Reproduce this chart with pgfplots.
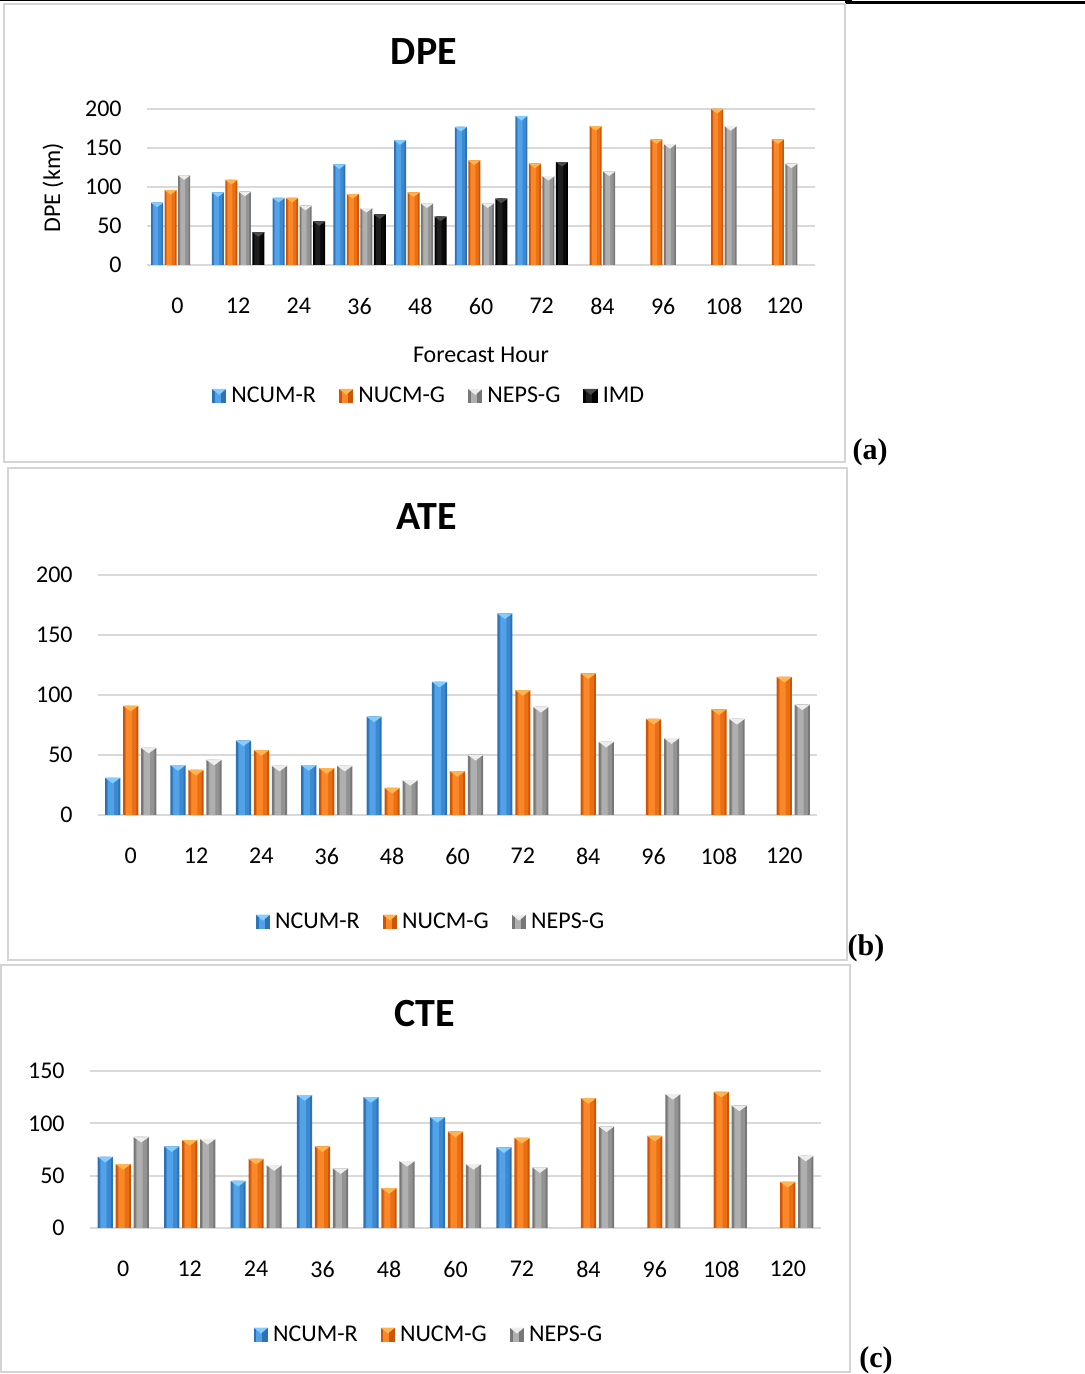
\documentclass[border=0pt]{standalone}
\usepackage{pgfplots}
\usepackage{pgfplotstable}
\pgfplotsset{compat=1.18}
\usepackage{fontspec}
\setmainfont{Carlito}
\newfontfamily\timesb{Liberation Serif}

\definecolor{bluedark}{HTML}{2C72B6}
\definecolor{bluemid}{HTML}{3C89D2}
\definecolor{bluelight}{HTML}{53A2E8}
\definecolor{bluetri}{HTML}{86CDFF}
\definecolor{orgdark}{HTML}{CC5506}
\definecolor{orgmid}{HTML}{EA6F14}
\definecolor{orglight}{HTML}{FA8828}
\definecolor{orgtri}{HTML}{FFB452}
\definecolor{graydark}{HTML}{777777}
\definecolor{graymid}{HTML}{939393}
\definecolor{graylight}{HTML}{AFAFAF}
\definecolor{graytri}{HTML}{EDEDED}
\definecolor{blkdark}{HTML}{000000}
\definecolor{blkmid}{HTML}{0A0A0A}
\definecolor{blklight}{HTML}{1E1E1E}
\definecolor{blktri}{HTML}{4A4A4A}
\definecolor{gridgray}{HTML}{D9D9D9}
\definecolor{framegray}{HTML}{D4D4D4}

% panel (a) data (nan = no bar)
\pgfplotstableread{
x ncum nucm neps imd
0 80  96  115 nan
1 93  109 94  42
2 86  86  76  56
3 129 91  73  65
4 160 93  79  62
5 177 134 79  85
6 191 130 114 132
7 nan 178 120 nan
8 nan 161 155 nan
9 nan 200 178 nan
10 nan 161 130 nan
}\tabA
% panel (b)
\pgfplotstableread{
x ncum nucm neps
0 31   91   56
1 41.5 37.5 46
2 62   54   41
3 41.5 39   41
4 82   22.5 29
5 111  36.5 50
6 168  104  90
7 nan  118  61
8 nan  80   64
9 nan  88   80
10 nan 115  92
}\tabB
% panel (c)
\pgfplotstableread{
x ncum nucm neps
0 68  61  87
1 78  84  85
2 45  66  60
3 127 78  57
4 125 38  64
5 106 92  61
6 77  86  58
7 nan 124 97
8 nan 88  128
9 nan 130 117
10 nan 44 69
}\tabC

\pgfplotsset{
  panel/.style={
    scale only axis, enlargelimits=false,
    xmin=-0.5, xmax=10.5, ymin=0,
    xtick={0,...,10},
    xticklabels={0,12,24,36,48,60,72,84,96,108,120},
    axis line style={draw=none}, tick style={draw=none},
    ymajorgrids, grid style={gridgray, line width=1pt},
    /pgf/number format/assume math mode=true,
    tick label style={font=\fontsize{12}{14}\selectfont, text=black},
    xticklabel style={anchor=center, yshift=-20.5pt},
    yticklabel style={anchor=east, inner sep=0pt, xshift=-12.5pt},
    legend style={draw=none, fill=none, font=\fontsize{12}{14}\selectfont,
      legend columns=-1, inner sep=0pt,
      /tikz/every odd column/.append style={column sep=0.5pt},
      /tikz/every even column/.append style={column sep=9.5pt}},
  },
  % base bar: #1 shift, #2 width, #3 dark, #4 light, #5 triangle colour
  base/.style n args={5}{ybar, bar shift=#1, bar width=#2, draw=none, fill=#3,
    legend image code/.code={\fill[#3] (0pt,-3.6pt) rectangle (7.2pt,3.6pt);
      \fill[#4] (1.4pt,-3.6pt) rectangle (4.4pt,3.6pt);
      \fill[#5] (0pt,3.6pt) -- (7.2pt,3.6pt) -- (3.6pt,0.6pt) -- cycle;}},
  mid/.style n args={3}{ybar, bar shift=#1, bar width=#2, draw=none, fill=#3, forget plot},
  % triangle highlight marks: #1 xshift, #2 colour, #3 mark size
  tri/.style n args={3}{only marks, forget plot, color=#2, mark=triangle*,
    mark size=#3, mark options={xshift=#1, yshift=-0.225*#3-0.15pt, yscale=0.42, rotate=180,
      draw=none, fill=#2}},
}

\begin{document}
\begin{tikzpicture}
\useasboundingbox (0,0) rectangle (542.5pt,687pt);
% top rule
\draw[black, line width=0.6pt] (0,686.6pt) -- (426pt,686.6pt);
\draw[black, line width=1.3pt] (422.5pt,685.6pt) -- (542.5pt,685.6pt);
% frames
\draw[framegray, line width=0.8pt] (2pt,456pt) rectangle (422.5pt,685pt);
\draw[framegray, line width=0.8pt] (4pt,207pt) rectangle (423.5pt,453pt);
\draw[framegray, line width=0.8pt] (0.5pt,1pt) rectangle (425pt,204.5pt);
% panel labels
\node[font=\timesb\bfseries\fontsize{15}{17}\selectfont] at (435pt,461pt) {(a)};
\node[font=\timesb\bfseries\fontsize{15}{17}\selectfont] at (433pt,213pt) {(b)};
\node[font=\timesb\bfseries\fontsize{15}{17}\selectfont] at (438pt,7pt) {(c)};
% titles
\node[font=\bfseries\fontsize{20}{24}\selectfont] at (212pt,661pt) {DPE};
\node[font=\bfseries\fontsize{20}{24}\selectfont] at (213.5pt,428.5pt) {ATE};
\node[font=\bfseries\fontsize{20}{24}\selectfont] at (212.5pt,180pt) {CTE};
\node[font=\fontsize{12}{14}\selectfont] at (240.5pt,509.5pt) {Forecast Hour};
\node[font=\fontsize{12}{14}\selectfont, rotate=90] at (26.5pt,593pt) {DPE (km)};

% ---------- (a) DPE
\begin{axis}[panel, at={(73.5pt,554.5pt)}, anchor=south west,
  width=334pt, height=78pt, ymax=200, ytick={0,50,100,150,200},
  legend style={at={(0.4237,-0.84)}, anchor=center}]
\addplot[base={-10.125pt}{6pt}{bluedark}{bluelight}{bluetri}] table[x=x,y=ncum]{\tabA};
\addplot[base={-3.375pt}{6pt}{orgdark}{orglight}{orgtri}] table[x=x,y=nucm]{\tabA};
\addplot[base={3.375pt}{6pt}{graydark}{graylight}{graytri}] table[x=x,y=neps]{\tabA};
\addplot[base={10.125pt}{6pt}{blkdark}{blklight}{blktri}] table[x=x,y=imd]{\tabA};
\legend{NCUM-R,NUCM-G,NEPS-G,IMD}
\addplot[mid={-10.125pt}{4.4pt}{bluemid}] table[x=x,y=ncum]{\tabA};
\addplot[mid={-3.375pt}{4.4pt}{orgmid}] table[x=x,y=nucm]{\tabA};
\addplot[mid={3.375pt}{4.4pt}{graymid}] table[x=x,y=neps]{\tabA};
\addplot[mid={10.125pt}{4.4pt}{blkmid}] table[x=x,y=imd]{\tabA};
\addplot[mid={-10.8pt}{2.4pt}{bluelight}] table[x=x,y=ncum]{\tabA};
\addplot[mid={-4.05pt}{2.4pt}{orglight}] table[x=x,y=nucm]{\tabA};
\addplot[mid={2.7pt}{2.4pt}{graylight}] table[x=x,y=neps]{\tabA};
\addplot[mid={9.45pt}{2.4pt}{blklight}] table[x=x,y=imd]{\tabA};
\addplot[tri={-10.125pt}{bluetri}{2.9pt}] table[x=x,y=ncum]{\tabA};
\addplot[tri={-3.375pt}{orgtri}{2.9pt}] table[x=x,y=nucm]{\tabA};
\addplot[tri={3.375pt}{graytri}{2.9pt}] table[x=x,y=neps]{\tabA};
\addplot[tri={10.125pt}{blktri}{2.9pt}] table[x=x,y=imd]{\tabA};
\end{axis}

% ---------- (b) ATE
\begin{axis}[panel, at={(49pt,279.5pt)}, anchor=south west,
  width=359.5pt, height=120pt, ymax=200, ytick={0,50,100,150,200},
  legend style={at={(0.4645,-0.445)}, anchor=center}]
\addplot[base={-9pt}{7.6pt}{bluedark}{bluelight}{bluetri}] table[x=x,y=ncum]{\tabB};
\addplot[base={0pt}{7.6pt}{orgdark}{orglight}{orgtri}] table[x=x,y=nucm]{\tabB};
\addplot[base={9pt}{7.6pt}{graydark}{graylight}{graytri}] table[x=x,y=neps]{\tabB};
\legend{NCUM-R,NUCM-G,NEPS-G}
\addplot[mid={-9pt}{5.6pt}{bluemid}] table[x=x,y=ncum]{\tabB};
\addplot[mid={0pt}{5.6pt}{orgmid}] table[x=x,y=nucm]{\tabB};
\addplot[mid={9pt}{5.6pt}{graymid}] table[x=x,y=neps]{\tabB};
\addplot[mid={-9.8pt}{3pt}{bluelight}] table[x=x,y=ncum]{\tabB};
\addplot[mid={-0.8pt}{3pt}{orglight}] table[x=x,y=nucm]{\tabB};
\addplot[mid={8.2pt}{3pt}{graylight}] table[x=x,y=neps]{\tabB};
\addplot[tri={-9pt}{bluetri}{3.7pt}] table[x=x,y=ncum]{\tabB};
\addplot[tri={0pt}{orgtri}{3.7pt}] table[x=x,y=nucm]{\tabB};
\addplot[tri={9pt}{graytri}{3.7pt}] table[x=x,y=neps]{\tabB};
\end{axis}

% ---------- (c) CTE
\begin{axis}[panel, at={(45pt,73pt)}, anchor=south west,
  width=365.5pt, height=78.5pt, ymax=150, ytick={0,50,100,150},
  legend style={at={(0.465,-0.68)}, anchor=center}]
\addplot[base={-9pt}{7.6pt}{bluedark}{bluelight}{bluetri}] table[x=x,y=ncum]{\tabC};
\addplot[base={0pt}{7.6pt}{orgdark}{orglight}{orgtri}] table[x=x,y=nucm]{\tabC};
\addplot[base={9pt}{7.6pt}{graydark}{graylight}{graytri}] table[x=x,y=neps]{\tabC};
\legend{NCUM-R,NUCM-G,NEPS-G}
\addplot[mid={-9pt}{5.6pt}{bluemid}] table[x=x,y=ncum]{\tabC};
\addplot[mid={0pt}{5.6pt}{orgmid}] table[x=x,y=nucm]{\tabC};
\addplot[mid={9pt}{5.6pt}{graymid}] table[x=x,y=neps]{\tabC};
\addplot[mid={-9.8pt}{3pt}{bluelight}] table[x=x,y=ncum]{\tabC};
\addplot[mid={-0.8pt}{3pt}{orglight}] table[x=x,y=nucm]{\tabC};
\addplot[mid={8.2pt}{3pt}{graylight}] table[x=x,y=neps]{\tabC};
\addplot[tri={-9pt}{bluetri}{3.7pt}] table[x=x,y=ncum]{\tabC};
\addplot[tri={0pt}{orgtri}{3.7pt}] table[x=x,y=nucm]{\tabC};
\addplot[tri={9pt}{graytri}{3.7pt}] table[x=x,y=neps]{\tabC};
\end{axis}
\end{tikzpicture}
\end{document}
